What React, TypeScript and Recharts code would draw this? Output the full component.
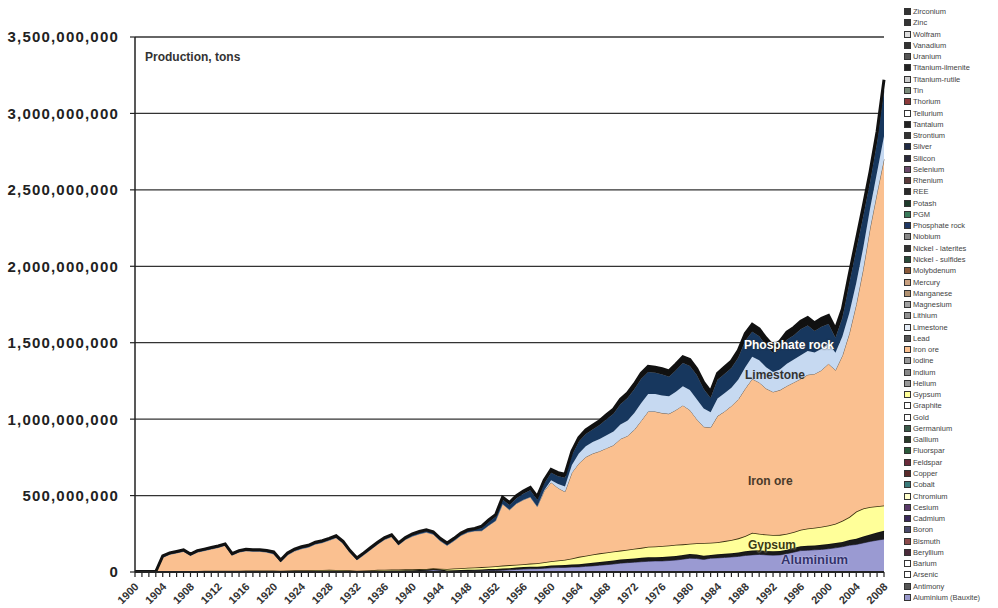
import React from "react";
import { AreaChart, Area, XAxis, YAxis, CartesianGrid, Legend } from "recharts";

// values in million tons, one per year from 1900 to 2008
const firstYear = 1900;

const aluminium = [
  0.1, 0.1, 0.1, 0.1, 0.1, 0.2, 0.2, 0.2, 0.2, 0.2,
  0.3, 0.3, 0.3, 0.4, 0.4, 0.5, 0.6, 0.6, 0.6, 0.5,
  0.5, 0.4, 0.5, 0.7, 0.9, 1, 1.2, 1.4, 1.6, 1.9,
  1.6, 1.2, 0.9, 1.1, 1.5, 2, 2.8, 3.5, 3.9, 4.2,
  4.5, 6, 8, 13, 10, 3, 5, 6, 7, 7.5,
  8, 9, 10, 12, 14, 17, 19, 21, 22, 24,
  27, 29, 30, 32, 33, 37, 40, 44, 48, 52,
  58, 61, 64, 67, 70, 72, 72, 75, 78, 84,
  90, 88, 82, 90, 92, 95, 98, 102, 108, 112,
  115, 112, 110, 112, 120, 130, 140, 142, 145, 148,
  152, 158, 165, 175, 180, 190, 200, 208, 215,
];

// Antimony ... Gold (copper, chromium, feldspar, fluorspar, ...)
const lowerMinor = [
  1, 1, 1, 1, 1.5, 1.5, 1.5, 1.5, 1.5, 1.5,
  2, 2, 2, 2, 2, 2, 2.5, 2.5, 2.5, 2.5,
  2.5, 2, 3, 3, 3.5, 3.5, 4, 4, 4.5, 5,
  4.5, 4, 3, 3.5, 4, 5, 5.5, 6, 6, 6.5,
  7, 7.5, 8, 8, 7.5, 6, 6.5, 7, 8, 8,
  9, 10, 10, 11, 11, 12, 13, 13, 13, 14,
  15, 15, 16, 17, 18, 19, 20, 21, 22, 23,
  24, 24, 25, 26, 27, 25, 26, 26, 27, 28,
  28, 27, 24, 22, 24, 25, 25, 26, 27, 28,
  27, 26, 25, 25, 26, 28, 28, 29, 29, 30,
  31, 31, 32, 35, 38, 42, 46, 50, 55,
];

const gypsum = [
  2, 2, 2, 2, 3.5, 3.5, 4, 4, 4, 5,
  5.5, 5.5, 5.5, 6.5, 5.5, 5.5, 6, 6, 6, 6,
  7, 6.5, 6.5, 7, 7.5, 7.5, 8, 7.5, 8, 7,
  7, 6, 5, 5.5, 6.5, 7, 7, 7.5, 7, 7.5,
  6.5, 5.5, 4, 3, 4.5, 11, 11.5, 12, 13, 14.5,
  15, 16, 18, 19, 20, 19, 19, 21, 23, 26,
  28, 31, 34, 39, 48, 51, 55, 57, 58, 59,
  58, 61, 63, 65, 68, 70, 72, 73, 73, 69,
  67, 73, 84, 80, 79, 82, 87, 92, 100, 117,
  108, 107, 107, 106, 104, 104, 108, 114, 116, 118,
  122, 126, 138, 150, 177, 183, 179, 172, 165,
];

const ironOre = [
  0, 0, 0, 0, 90, 110, 119, 129, 102, 123,
  132, 142, 152, 165, 102, 122, 129, 126, 126, 121,
  108, 57, 102, 126, 140, 150, 169, 179, 193, 210,
  174, 116, 70, 102, 135, 168, 197, 213, 160, 194,
  216, 230, 240, 223, 182, 154, 181, 214, 232, 239,
  238, 270, 297, 403, 362, 400, 421, 436, 370, 466,
  516, 475, 445, 562, 611, 645, 660, 668, 682, 695,
  730, 744, 778, 832, 885, 883, 870, 861, 882, 909,
  875, 812, 760, 753, 825, 848, 876, 910, 965, 1006,
  990, 955, 936, 947, 967, 978, 987, 1005, 1006, 1024,
  1057, 1005, 1080, 1200, 1355, 1565, 1825, 2050, 2265,
];

const limestone = [
  0, 0, 0, 0, 0, 0, 0, 0, 0, 0,
  0, 0, 0, 0, 0, 0, 0, 0, 0, 0,
  0, 0, 0, 0, 0, 0, 0, 0, 0, 0,
  0, 0, 0, 0, 0, 0, 0, 0, 0, 0,
  0, 0, 0, 0, 0, 0, 0, 0, 0, 0,
  0, 0, 0, 0, 0, 0, 0, 0, 0, 5,
  15, 25, 35, 50, 65, 70, 75, 80, 85, 90,
  95, 100, 110, 115, 115, 115, 115, 115, 120, 125,
  130, 130, 120, 100, 115, 120, 120, 130, 140, 145,
  145, 140, 130, 135, 145, 150, 155, 155, 140, 140,
  135, 115, 125, 135, 140, 140, 130, 135, 150,
];

// Lithium ... Phosphate rock
const phosphate = [
  0, 0, 0, 0, 4, 4, 4, 4, 4, 4,
  4, 4, 4, 4, 4, 4, 4, 4, 4, 4,
  7, 7, 7, 7, 7, 7, 7, 7, 7, 7,
  7, 7, 7, 7, 7, 7, 7, 7, 7, 7,
  10, 10, 10, 10, 10, 10, 10, 10, 10, 10,
  18, 22, 26, 30, 32, 35, 40, 43, 45, 44,
  48, 52, 56, 65, 79, 81, 82, 91, 105, 116,
  133, 147, 156, 160, 144, 138, 137, 127, 140, 152,
  158, 158, 128, 93, 122, 126, 129, 144, 173, 164,
  157, 142, 124, 136, 158, 159, 170, 167, 140, 145,
  125, 98, 122, 195, 218, 206, 174, 197, 300,
];

// PGM ... Zirconium (potash, silicon, zinc, ...)
const upperMinor = [
  0, 0, 0, 0, 6, 6, 6, 6, 6, 6,
  6, 6, 6, 6, 6, 6, 6, 6, 6, 6,
  6, 6, 6, 6, 6, 6, 6, 6, 6, 6,
  6, 6, 6, 6, 6, 6, 6, 6, 6, 6,
  6, 6, 6, 6, 6, 6, 6, 6, 6, 6,
  12, 13, 14, 15, 16, 17, 18, 19, 20, 21,
  22, 23, 24, 25, 26, 27, 28, 29, 30, 31,
  32, 33, 34, 35, 36, 37, 38, 39, 40, 41,
  42, 42, 42, 42, 43, 44, 45, 46, 47, 48,
  48, 48, 48, 49, 50, 51, 52, 53, 54, 55,
  56, 57, 58, 60, 62, 64, 66, 68, 70,
];

const yTicks = [0, 500, 1000, 1500, 2000, 2500, 3000, 3500];

const legendNames = [
  "Zirconium", "Zinc", "Wolfram", "Vanadium", "Uranium", "Titanium-ilmenite",
  "Titanium-rutile", "Tin", "Thorium", "Tellurium", "Tantalum", "Strontium",
  "Silver", "Silicon", "Selenium", "Rhenium", "REE", "Potash", "PGM",
  "Phosphate rock", "Niobium", "Nickel - laterites", "Nickel - sulfides",
  "Molybdenum", "Mercury", "Manganese", "Magnesium", "Lithium", "Limestone",
  "Lead", "Iron ore", "Iodine", "Indium", "Helium", "Gypsum", "Graphite",
  "Gold", "Germanium", "Gallium", "Fluorspar", "Feldspar", "Copper", "Cobalt",
  "Chromium", "Cesium", "Cadmium", "Boron", "Bismuth", "Beryllium", "Barium",
  "Arsenic", "Antimony", "Aluminium (Bauxite)",
];

const legendColors = [
  "#333", "#333", "#ddd", "#333", "#555", "#222",
  "#ccc", "#7a8a7a", "#8b3a3a", "#fff", "#222", "#333",
  "#1f2a44", "#2a2a3a", "#6a4a6a", "#5a3a3a", "#2a2a2a", "#1e3a2a", "#3a7a5a",
  "#1f3864", "#888", "#333", "#2a4a3a",
  "#8a5a3a", "#c8a080", "#b09070", "#a0a0a0", "#909090", "#e4ecf6",
  "#555", "#fac090", "#999", "#888", "#999", "#ffff99", "#fff",
  "#fff", "#3a5a4a", "#2a3a2a", "#2a5a3a", "#6a2a3a", "#5a2a2a", "#3a7a7a",
  "#ffffcc", "#5a3a6a", "#3a2a5a", "#4a4a6a", "#8a4a4a", "#4a2a3a", "#fff",
  "#fff", "#555", "#9999cc",
];

const data = ironOre.map((_, i) => ({
  year: firstYear + i,
  aluminium: aluminium[i],
  lowerMinor: lowerMinor[i],
  gypsum: gypsum[i],
  ironOre: ironOre[i],
  limestone: limestone[i],
  phosphate: phosphate[i],
  upperMinor: upperMinor[i],
}));

const years = data.map((d) => d.year);
const font = "'Liberation Sans', Arial, sans-serif";

const YearTick = (props: any) => {
  const { x, y, payload } = props;
  if (payload.value % 4 !== 0) return <g />;
  const ax = x - 1;
  const ay = y + 3;
  return (
    <text
      x={ax}
      y={ay}
      textAnchor="end"
      transform={`rotate(-45 ${ax} ${ay})`}
      fontSize={11}
      fontWeight="bold"
      fill="#333"
      fontFamily={font}
      dy="0.7em"
    >
      {payload.value}
    </text>
  );
};

const ValueTick = (props: any) => {
  const { x, y, payload } = props;
  return (
    <text
      x={x - 9}
      y={y}
      dy="0.36em"
      textAnchor="end"
      fontSize={15}
      fontWeight="bold"
      fill="#222"
      fontFamily={font}
      letterSpacing={1.2}
    >
      {(payload.value * 1e6).toLocaleString("en-US")}
    </text>
  );
};

const MineralLegend = () => (
  <div style={{ fontFamily: font, fontSize: 7.5, color: "#444" }}>
    {legendNames.map((name, i) => (
      <div key={name} style={{ height: 11.27, display: "flex", alignItems: "center", whiteSpace: "nowrap" }}>
        <span
          style={{
            width: 5,
            height: 5,
            marginRight: 2,
            background: legendColors[i],
            border: "1px solid #333",
            display: "inline-block",
            flex: "none",
          }}
        />
        {name}
      </div>
    ))}
  </div>
);

const label = (text: string, left: number, top: number, color: string, extra: any = {}) => (
  <div
    style={{
      position: "absolute",
      left,
      top,
      fontFamily: font,
      fontWeight: "bold",
      fontSize: 12,
      color,
      whiteSpace: "nowrap",
      ...extra,
    }}
  >
    {text}
  </div>
);

export default function App() {
  return (
    <div style={{ position: "absolute", left: 0, top: 0, width: 998, height: 608, background: "#fff" }}>
      <AreaChart
        width={998}
        height={608}
        data={data}
        margin={{ top: 37, right: 114, bottom: 0, left: 0 }}
      >
        <CartesianGrid horizontal vertical={false} stroke="#333" strokeWidth={1.3} />
        <XAxis
          dataKey="year"
          type="number"
          domain={[1900, 2008]}
          ticks={years}
          interval={0}
          height={36}
          tickSize={5}
          tick={<YearTick />}
          axisLine={{ stroke: "#222", strokeWidth: 2 }}
          tickLine={{ stroke: "#222", strokeWidth: 1.2 }}
        />
        <YAxis
          width={135}
          domain={[0, 3500]}
          ticks={yTicks}
          tickSize={5}
          tick={<ValueTick />}
          axisLine={{ stroke: "#222", strokeWidth: 1.5 }}
          tickLine={{ stroke: "#222", strokeWidth: 1.2 }}
        />
        <Legend
          layout="vertical"
          align="center"
          verticalAlign="middle"
          content={<MineralLegend />}
          wrapperStyle={{ left: 904, top: 6, width: 94, height: 600 }}
        />
        <Area isAnimationActive={false} type="linear" dataKey="aluminium" name="Aluminium (Bauxite)" stackId="1" fill="#9a9ad2" fillOpacity={1} stroke="#4a4a7a" strokeWidth={1} />
        <Area isAnimationActive={false} type="linear" dataKey="lowerMinor" name="Antimony – Gold" stackId="1" fill="#1a1a1a" fillOpacity={1} stroke="#111" strokeWidth={1.5} />
        <Area isAnimationActive={false} type="linear" dataKey="gypsum" name="Gypsum" stackId="1" fill="#ffff99" fillOpacity={1} stroke="#3a3010" strokeWidth={1.6} />
        <Area isAnimationActive={false} type="linear" dataKey="ironOre" name="Iron ore" stackId="1" fill="#fac090" fillOpacity={1} stroke="#6b5d50" strokeWidth={1} />
        <Area isAnimationActive={false} type="linear" dataKey="limestone" name="Limestone" stackId="1" fill="#c6d9f1" fillOpacity={1} stroke="#c6d9f1" strokeWidth={0.5} />
        <Area isAnimationActive={false} type="linear" dataKey="phosphate" name="Phosphate rock" stackId="1" fill="#17375e" fillOpacity={1} stroke="#17375e" strokeWidth={0.5} />
        <Area isAnimationActive={false} type="linear" dataKey="upperMinor" name="PGM – Zirconium" stackId="1" fill="#111" fillOpacity={1} stroke="#111" strokeWidth={3} />
      </AreaChart>
      {label("Production, tons", 145, 50, "#333")}
      {label("Phosphate rock", 744, 338, "#fff", { textShadow: "0 0 2px #333" })}
      {label("Limestone", 745, 368, "#333")}
      {label("Iron ore", 748, 474, "#4a3a2a")}
      {label("Gypsum", 748, 538, "#3a3a10", { textShadow: "0 0 2px #ffffcc" })}
      {label("Aluminium", 781, 552, "#33336a", { fontSize: 13, textShadow: "0 0 2px #ddddff" })}
    </div>
  );
}
